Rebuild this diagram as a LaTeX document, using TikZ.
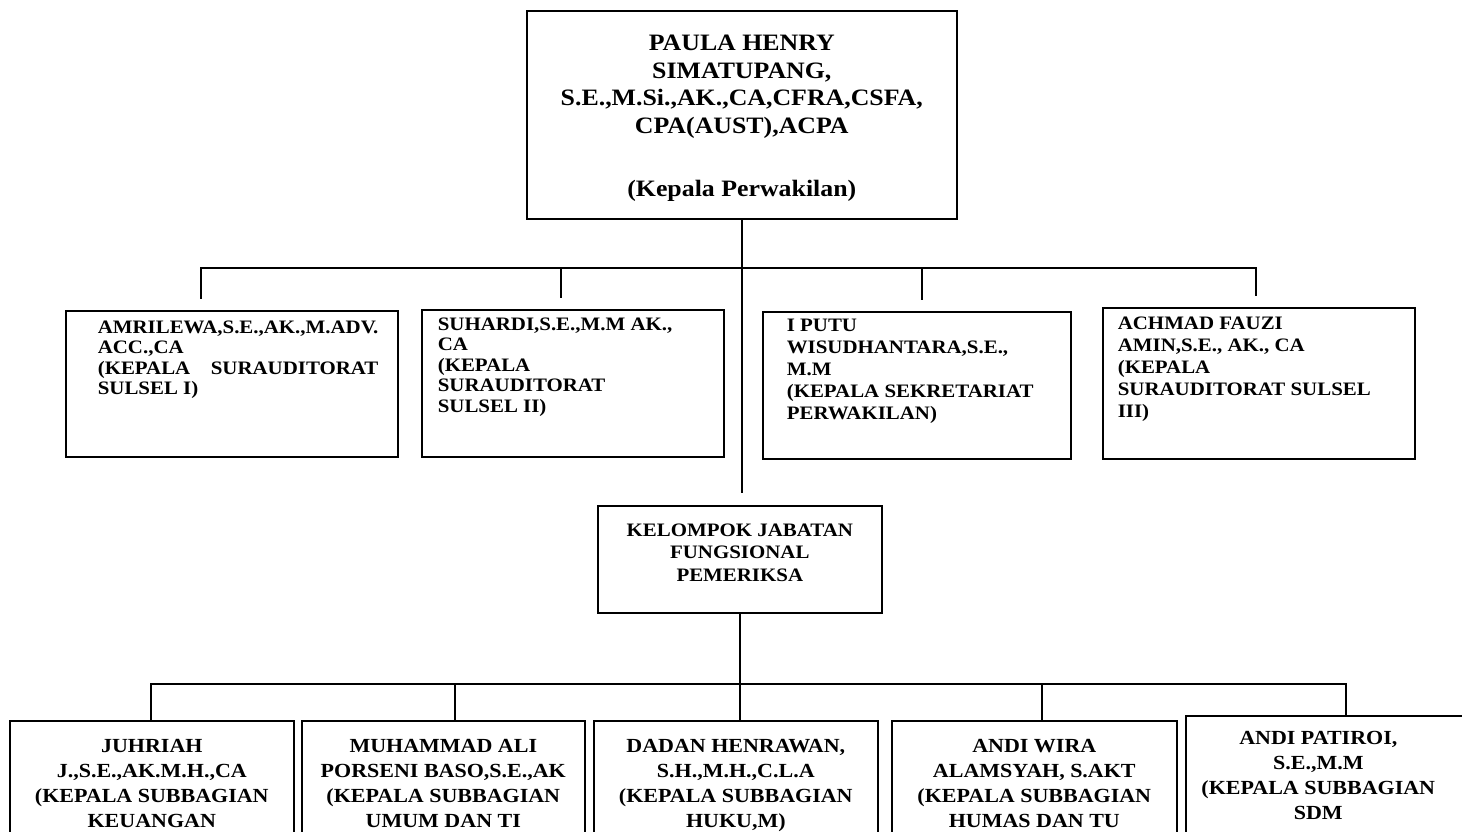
\documentclass[tikz,border=0pt]{standalone}
\usepackage{fontspec}
\setmainfont{Liberation Serif}[FakeStretch=1.1]
\usepackage{calc}
\usepackage{tikz}

% box text: height, width, top gap, left gap, inner width, text
\newcommand{\orgtext}[6]{\parbox[c][#1][t]{#2}{\vspace*{#3}\hspace*{#4}\parbox[t]{#5}{#6}}}

\tikzset{
  orgbox/.style={draw, line width=1.6pt, inner sep=0pt, anchor=north west},
  headbox/.style={orgbox, font=\bfseries\fontsize{23.5pt}{27.7pt}\selectfont},
  unitbox/.style={orgbox, font=\bfseries\fontsize{19pt}{20.5pt}\selectfont},
  unitboxw/.style={orgbox, font=\bfseries\fontsize{19pt}{22pt}\selectfont},
  groupbox/.style={orgbox, font=\bfseries\fontsize{19pt}{22.5pt}\selectfont},
  subbox/.style={orgbox, font=\bfseries\fontsize{20pt}{25pt}\selectfont},
  link/.style={line width=1.6pt, line cap=rect},
}

\begin{document}
\begin{tikzpicture}[x=1pt, y=-1pt]
    \useasboundingbox (0,0) rectangle (1462,832);
    \clip (0,0) rectangle (1462,832);
    \fill[white] (0,0) rectangle (1462,832);

    % head
    \node[headbox] (head) at (526,10) {\orgtext{208pt}{430pt}{24pt}{0pt}{430pt}{\centering
      PAULA HENRY\\
      SIMATUPANG,\\
      S.E.,M.Si.,AK.,CA,CFRA,CSFA,\\
      CPA(AUST),ACPA\\[35pt]
      (Kepala Perwakilan)}};

    % first row
    \node[unitbox] (amri) at (65,310) {\orgtext{146pt}{332pt}{10pt}{32pt}{290pt}{%
      AMRILEWA,S.E.,AK.,M.ADV.\\
      ACC.,CA\\
      \makebox[\widthof{AMRILEWA,S.E.,AK.,M.ADV.}][s]{(KEPALA SURAUDITORAT}\\
      SULSEL I)}};
    \node[unitbox] (suha) at (421,309) {\orgtext{147pt}{302pt}{8pt}{16pt}{280pt}{%
      SUHARDI,S.E.,M.M AK.,\\
      CA\\
      (KEPALA\\
      SURAUDITORAT\\
      SULSEL II)}};
    \node[unitboxw] (putu) at (762,311) {\orgtext{147pt}{308pt}{7pt}{24pt}{278pt}{%
      I PUTU\\
      WISUDHANTARA,S.E.,\\
      M.M\\
      (KEPALA SEKRETARIAT\\
      PERWAKILAN)}};
    \node[unitboxw] (fauz) at (1102,307) {\orgtext{151pt}{312pt}{9pt}{15pt}{290pt}{%
      ACHMAD FAUZI\\
      AMIN,S.E., AK., CA\\
      (KEPALA\\
      SURAUDITORAT SULSEL\\
      III)}};

    % functional group
    \node[groupbox] (jfp) at (597,505) {\orgtext{107pt}{284pt}{18pt}{0pt}{284pt}{\centering
      KELOMPOK JABATAN\\
      FUNGSIONAL\\
      PEMERIKSA}};

    % second row
    \node[subbox] (juhr) at (9,720) {\orgtext{140pt}{284pt}{18pt}{0pt}{284pt}{\centering
      JUHRIAH\\ J.,S.E.,AK.M.H.,CA\\ (KEPALA SUBBAGIAN\\ KEUANGAN}};
    \node[subbox] (muha) at (301,720) {\orgtext{140pt}{283pt}{18pt}{0pt}{283pt}{\centering
      MUHAMMAD ALI\\ PORSENI BASO,S.E.,AK\\ (KEPALA SUBBAGIAN\\ UMUM DAN TI}};
    \node[subbox] (dada) at (593,720) {\orgtext{140pt}{284pt}{18pt}{0pt}{284pt}{\centering
      DADAN HENRAWAN,\\ S.H.,M.H.,C.L.A\\ (KEPALA SUBBAGIAN\\ HUKU,M)}};
    \node[subbox] (andw) at (891,720) {\orgtext{140pt}{285pt}{18pt}{0pt}{285pt}{\centering
      ANDI WIRA\\ ALAMSYAH, S.AKT\\ (KEPALA SUBBAGIAN\\ HUMAS DAN TU}};
    \node[subbox] (andp) at (1185,715) {\orgtext{145pt}{285pt}{15pt}{0pt}{265pt}{\centering
      ANDI PATIROI,\\ S.E.,M.M\\ (KEPALA SUBBAGIAN\\ SDM}};

    % connectors, first level
    \draw[link, shorten >=13pt] (head.south) -- (head.south |- jfp.north);
    \foreach \x/\n in {201/amri, 561/suha, 922/putu, 1256/fauz}
      \coordinate (up-\n) at (\x,268);
    \draw[link] (up-amri) -- (up-fauz);
    \foreach \n in {amri, suha, putu, fauz}
      \draw[link, shorten >=12pt] (up-\n) -- (up-\n |- \n.north);

    % connectors, second level
    \foreach \x/\n in {151/juhr, 455/muha, 1042/andw, 1346/andp}
      \coordinate (up-\n) at (\x,684);
    \draw[link] (jfp.south) -- (jfp.south |- dada.north);
    \draw[link] (up-juhr) -- (up-andp);
    \foreach \n in {juhr, muha, andw, andp}
      \draw[link] (up-\n) -- (up-\n |- \n.north);
\end{tikzpicture}
\end{document}
